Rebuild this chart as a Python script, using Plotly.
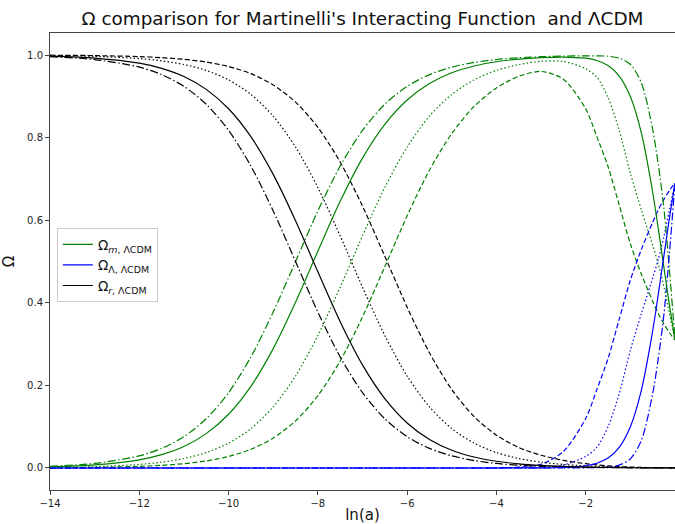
import plotly.graph_objects as go

# ln(a) sample points
ln_a = [-14, -13, -12, -11.5, -11, -10.5, -10, -9.5, -9, -8.5, -8, -7.5, -7, -6.5, -6,
        -5.5, -5, -4.5, -4, -3.5, -3, -2.5, -2, -1.75, -1.5, -1.25, -1, -0.75, -0.5,
        -0.375, -0.25, -0.125, 0]

# ---- solid (LambdaCDM) ----
om_m_solid = [0.0027, 0.0074, 0.0198, 0.0323, 0.0521, 0.0832, 0.1301, 0.1978, 0.2891, 0.4013,
              0.5250, 0.6457, 0.7503, 0.8320, 0.8909, 0.9309, 0.9569, 0.9734, 0.9837, 0.9900,
              0.9936, 0.9951, 0.9923, 0.9867, 0.9747, 0.9490, 0.8993, 0.8095, 0.6677, 0.5797,
              0.4868, 0.3949, 0.3099]
om_l_solid = [0, 0, 0, 0, 0, 0, 0, 0, 0, 0, 0, 0, 0, 0, 0, 0, 0, 0, 0, 0.0001, 0.0003, 0.0012,
              0.0055, 0.0116, 0.024, 0.050, 0.100, 0.190, 0.332, 0.420, 0.513, 0.605, 0.690]
om_r_solid = [0.9973, 0.9926, 0.9802, 0.9677, 0.9479, 0.9168, 0.8699, 0.8022, 0.7109, 0.5987,
              0.4750, 0.3543, 0.2497, 0.1680, 0.1091, 0.0691, 0.0431, 0.0266, 0.0163, 0.0100,
              0.0061, 0.0037, 0.0022, 0.0017, 0.0013, 0.0010, 0.0007, 0.0005, 0.0003, 0.0003,
              0.0002, 0.0001, 0.0001]

# ---- dash-dot ----
om_m_dashdot = [0.0041, 0.0110, 0.0293, 0.0474, 0.0759, 0.1192, 0.1824, 0.2689, 0.3775, 0.5,
                0.6225, 0.7311, 0.8176, 0.8808, 0.9241, 0.9526, 0.9707, 0.9820, 0.9890, 0.9933,
                0.9959, 0.9974, 0.9980, 0.9978, 0.9971, 0.9923, 0.9775, 0.9316, 0.8197, 0.7348,
                0.6298, 0.4799, 0.3099]
om_l_dashdot = [0, 0, 0, 0, 0, 0, 0, 0, 0, 0, 0, 0, 0, 0, 0, 0, 0, 0, 0, 0, 0, 0.0001, 0.0005,
                0.001, 0.002, 0.007, 0.022, 0.068, 0.18, 0.265, 0.37, 0.52, 0.69]
om_r_dashdot = [0.9959, 0.9890, 0.9707, 0.9526, 0.9241, 0.8808, 0.8176, 0.7311, 0.6225, 0.5,
                0.3775, 0.2689, 0.1824, 0.1192, 0.0759, 0.0474, 0.0293, 0.0180, 0.0110, 0.0067,
                0.0041, 0.0025, 0.0015, 0.0012, 0.0009, 0.0007, 0.0005, 0.0004, 0.0003, 0.0002,
                0.0002, 0.0001, 0.0001]

# ---- dotted ----
om_m_dotted = [0.0012, 0.0032, 0.0086, 0.0141, 0.0230, 0.0373, 0.0601, 0.0953, 0.1480, 0.2227,
               0.3208, 0.4378, 0.5622, 0.6792, 0.7773, 0.8520, 0.9047, 0.9399, 0.9627, 0.9768,
               0.9849, 0.9844, 0.9668, 0.9461, 0.8971, 0.8180, 0.7137, 0.6240, 0.5393, 0.4944,
               0.4395, 0.3746, 0.3097]
om_l_dotted = [0, 0, 0, 0, 0, 0, 0, 0, 0, 0, 0, 0, 0, 0, 0, 0, 0, 0, 0, 0.0002, 0.001, 0.007,
               0.028, 0.05, 0.10, 0.18, 0.285, 0.375, 0.46, 0.505, 0.56, 0.625, 0.69]
om_r_dotted = [0.9988, 0.9968, 0.9914, 0.9859, 0.9770, 0.9627, 0.9399, 0.9047, 0.8520, 0.7773,
               0.6792, 0.5622, 0.4378, 0.3208, 0.2227, 0.1480, 0.0953, 0.0601, 0.0373, 0.0230,
               0.0141, 0.0086, 0.0052, 0.0039, 0.0029, 0.0020, 0.0013, 0.0010, 0.0007, 0.0006,
               0.0005, 0.0004, 0.0003]

# ---- dashed ----
om_m_dashed = [0.0005, 0.0014, 0.0039, 0.0064, 0.0105, 0.0171, 0.0279, 0.0452, 0.0724, 0.1140,
               0.1751, 0.2592, 0.3659, 0.4875, 0.6106, 0.7211, 0.8100, 0.8755, 0.9203, 0.9483,
               0.9602, 0.9415, 0.8696, 0.8024, 0.7299, 0.6367, 0.5428, 0.4685, 0.4040, 0.3742,
               0.3494, 0.3275, 0.3096]
om_l_dashed = [0, 0, 0, 0, 0, 0, 0, 0, 0, 0, 0, 0, 0, 0, 0, 0, 0, 0, 0.0003, 0.002, 0.009, 0.04,
               0.12, 0.19, 0.265, 0.36, 0.455, 0.53, 0.595, 0.625, 0.65, 0.672, 0.69]
om_r_dashed = [0.9995, 0.9986, 0.9961, 0.9936, 0.9895, 0.9829, 0.9721, 0.9548, 0.9276, 0.8860,
               0.8249, 0.7408, 0.6341, 0.5125, 0.3894, 0.2789, 0.1900, 0.1245, 0.0794, 0.0497,
               0.0308, 0.0185, 0.0104, 0.0076, 0.0051, 0.0033, 0.0022, 0.0015, 0.0010, 0.0008,
               0.0006, 0.0005, 0.0004]

legend_names = ["Ω<sub><i>m</i>, ΛCDM</sub>", "Ω<sub>Λ, ΛCDM</sub>", "Ω<sub><i>r</i>, ΛCDM</sub>"]
colors = ["green", "blue", "black"]

dash_solid = "solid"
dash_dashdot = "8px,2.5px,1.5px,2.5px"
dash_dotted = "1.5px,2.3px"
dash_dashed = "5px,2.5px"

fig = go.Figure()

groups = [
    (dash_dashed, [om_m_dashed, om_l_dashed, om_r_dashed], False),
    (dash_dotted, [om_m_dotted, om_l_dotted, om_r_dotted], False),
    (dash_dashdot, [om_m_dashdot, om_l_dashdot, om_r_dashdot], False),
    (dash_solid, [om_m_solid, om_l_solid, om_r_solid], True),
]
for dash, series, show in groups:
    for i, ys in enumerate(series):
        fig.add_trace(go.Scatter(
            x=ln_a, y=ys, mode="lines",
            line=dict(color=colors[i], width=1.2, dash=dash, shape="spline", smoothing=0.8),
            name=legend_names[i], showlegend=show, legendrank=i + 1,
        ))

axis_common = dict(
    showline=True, linecolor="#444", linewidth=1, mirror=True,
    ticks="outside", ticklen=4, tickwidth=1, tickcolor="#444",
    showgrid=False, zeroline=False,
    tickfont=dict(family="DejaVu Sans", size=10, color="#222"),
)

fig.update_layout(
    width=675, height=524,
    margin=dict(l=50, r=0, t=33, b=34),
    paper_bgcolor="white", plot_bgcolor="white",
    title=dict(text="Ω comparison for Martinelli's Interacting Function  and ΛCDM",
               x=0.537, xanchor="center", y=0.965, yanchor="middle",
               font=dict(family="DejaVu Sans", size=18.4, color="#111")),
    xaxis=dict(range=[-14, 0], tickvals=[-14, -12, -10, -8, -6, -4, -2, 0],
               title=dict(text="ln(a)", standoff=5,
                          font=dict(family="DejaVu Sans", size=15, color="#111")),
               **axis_common),
    yaxis=dict(range=[-0.0533, 1.0533], tickvals=[0, 0.2, 0.4, 0.6, 0.8, 1.0], tickformat=".1f",
               title=dict(text="Ω", standoff=10,
                          font=dict(family="DejaVu Sans", size=15, color="#111")),
               **axis_common),
    legend=dict(x=0.011, y=0.573, xanchor="left", yanchor="top",
                bgcolor="rgba(255,255,255,0.8)", bordercolor="#ccc", borderwidth=1,
                font=dict(family="DejaVu Sans", size=13.5, color="#111"),
                tracegroupgap=0, itemwidth=30),
    showlegend=True,
)

fig.write_html("out.html")
